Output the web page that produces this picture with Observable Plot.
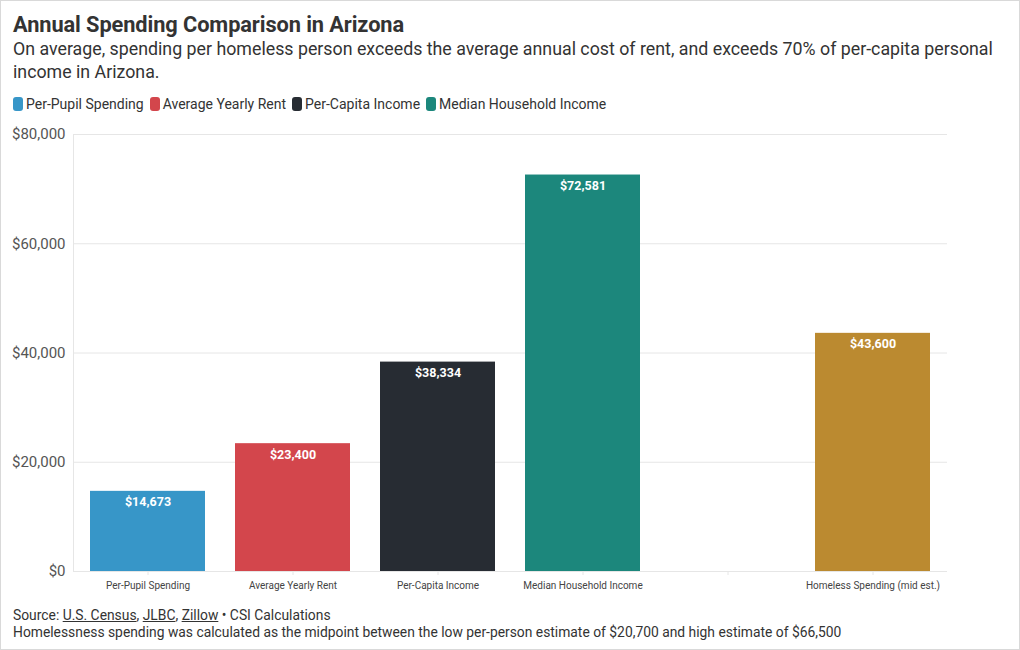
<!DOCTYPE html>
<html>
<head>
<meta charset="utf-8">
<script src="https://cdn.jsdelivr.net/npm/d3@7"></script>
<script src="https://cdn.jsdelivr.net/npm/@observablehq/plot@0.6"></script>
<style>
  html, body { margin: 0; padding: 0; background: #fff; }
  body { font-family: Roboto, "Noto Sans", sans-serif; color: #333; }
  #frame { position: relative; width: 1018px; height: 648px; border: 1px solid #d9d9d9; overflow: hidden; }
  #title { position: absolute; left: 12px; top: 11px; font-size: 21.8px; font-weight: 700; color: #333; letter-spacing: -0.1px; }
  #subtitle { position: absolute; left: 12px; top: 36px; width: 1000px; font-size: 17.8px; line-height: 23px; color: #333; }
  #legend { position: absolute; left: 12px; top: 95px; font-size: 14px; color: #333; display: flex; gap: 6px; }
  #legend .item { display: flex; align-items: center; }
  #legend .sw { display: inline-block; width: 10px; height: 14px; border-radius: 3px; margin-right: 3px; }
  #chart { position: absolute; left: 0; top: 122px; }
  #caption { position: absolute; left: 12px; top: 606px; font-size: 13.85px; line-height: 17px; color: #333; }
  #caption u { text-decoration: underline; }
</style>
</head>
<body>
<div id="frame">
  <div id="title">Annual Spending Comparison in Arizona</div>
  <div id="subtitle">On average, spending per homeless person exceeds the average annual cost of rent, and exceeds 70% of per-capita personal income in Arizona.</div>
  <div id="legend"></div>
  <div id="chart"></div>
  <div id="caption">Source: <u>U.S. Census</u>, <u>JLBC</u>, <u>Zillow</u> • CSI Calculations<br>Homelessness spending was calculated as the midpoint between the low per-person estimate of $20,700 and high estimate of $66,500</div>
</div>
<script>
const categories = ["Per-Pupil Spending", "Average Yearly Rent", "Per-Capita Income", "Median Household Income", "", "Homeless Spending (mid est.)"];
const values = [14673, 23400, 38334, 72581, null, 43600];
const colors = ["#3796c8", "#d3464c", "#272c33", "#1c877c", null, "#bb8a30"];
const legendNames = ["Per-Pupil Spending", "Average Yearly Rent", "Per-Capita Income", "Median Household Income"];
const legendColors = ["#3796c8", "#d3464c", "#272c33", "#1c877c"];
const yTicks = [0, 20000, 40000, 60000, 80000];

const legend = document.getElementById("legend");
legendNames.forEach((n, i) => {
  const it = document.createElement("span");
  it.className = "item";
  it.innerHTML = `<span class="sw" style="background:${legendColors[i]}"></span>${n}`;
  legend.appendChild(it);
});

const data = categories.map((c, i) => ({cat: c, value: values[i], color: colors[i]})).filter(d => d.value != null);
const fmt = d3.format("$,");

const chart = Plot.plot({
  width: 1018,
  height: 478,
  marginLeft: 72,
  marginRight: 72,
  marginTop: 11,
  marginBottom: 30,
  style: {fontFamily: "Roboto, sans-serif", background: "transparent"},
  x: {domain: categories, paddingInner: 0.21, paddingOuter: 0.11, label: null},
  y: {domain: [0, 80000], label: null},
  marks: [
    Plot.gridY(yTicks, {stroke: "#e6e6e6", strokeOpacity: 1}),
    Plot.barY(data, {x: "cat", y: "value", fill: "color"}),
    Plot.text(data, {x: "cat", y: "value", text: d => fmt(d.value), dy: 11, fill: "white", fontWeight: "bold", fontSize: 12.5}),
    Plot.axisY(yTicks, {tickFormat: fmt, tickSize: 0, tickPadding: 8, fontSize: 15, fill: "#555"}),
    Plot.axisX({tickSize: 4, stroke: "#e6e6e6", tickPadding: 6, fontSize: 10, fill: "#444"})
  ]
});
const svg = d3.select(chart);
svg.append("line").attr("x1", 72.5).attr("x2", 72.5).attr("y1", 11).attr("y2", 448).attr("stroke", "#e6e6e6");
document.getElementById("chart").appendChild(chart);
</script>
</body>
</html>
